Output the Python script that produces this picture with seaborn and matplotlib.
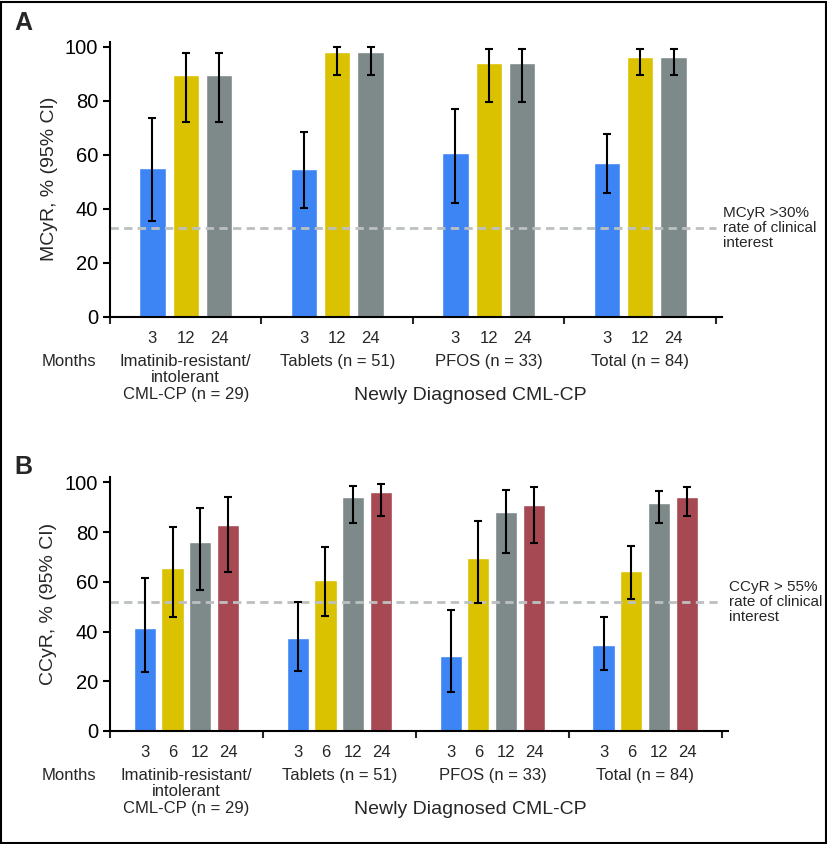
import numpy as np
import pandas as pd
import matplotlib.pyplot as plt
import matplotlib.transforms as mtransforms
from matplotlib.patches import Rectangle
from matplotlib import font_manager
import seaborn as sns

# ---- data ----
groups = ["Imatinib-resistant/\nintolerant\nCML-CP (n = 29)", "Tablets (n = 51)",
          "PFOS (n = 33)", "Total (n = 84)"]

# Panel A: MCyR
mcyr_months = ["3", "12", "24"]
mcyr_rate = [[55.2, 54.9, 60.6, 57.1],
             [89.7, 98.0, 93.9, 96.4],
             [89.7, 98.0, 93.9, 96.4]]
mcyr_low = [[35.7, 40.3, 42.1, 45.9],
            [72.4, 89.5, 79.6, 89.7],
            [72.4, 89.5, 79.6, 89.7]]
mcyr_high = [[73.6, 68.6, 77.1, 67.7],
             [97.6, 99.9, 99.1, 99.2],
             [97.6, 99.9, 99.1, 99.2]]
mcyr_threshold = 33

# Panel B: CCyR
ccyr_months = ["3", "6", "12", "24"]
ccyr_rate = [[41.4, 37.3, 30.3, 34.5],
             [65.5, 60.8, 69.7, 64.3],
             [75.9, 94.1, 87.9, 91.7],
             [82.8, 96.1, 90.9, 94.0]]
ccyr_low = [[23.6, 24.1, 15.7, 24.4],
            [45.8, 46.4, 51.5, 53.0],
            [56.6, 83.6, 71.6, 83.5],
            [64.1, 86.3, 75.6, 86.6]]
ccyr_high = [[61.5, 51.9, 48.7, 45.8],
             [82.2, 74.0, 84.6, 74.5],
             [89.7, 98.6, 96.8, 96.4],
             [94.0, 99.4, 98.0, 98.0]]
ccyr_threshold = 52

colors = ["#3d85f5", "#dbc200", "#7e8a89", "#a64953"]

sns.set_theme(style="ticks")
plt.rcParams['font.family'] = ['Liberation Sans', 'DejaVu Sans']

names = {f.name for f in font_manager.fontManager.ttflist}
if 'Liberation Sans Narrow' in names:
    big_font, big_size = ['Liberation Sans Narrow', 'Liberation Sans'], 16.5
else:
    big_font, big_size = ['Liberation Sans', 'DejaVu Sans'], 14

W, H = 828, 844
fig = plt.figure(figsize=(W / 100, H / 100), dpi=100)
fig.patch.set_facecolor('white')
px = 0.72  # points per pixel


def draw_panel(ax, months, rates, lows, highs, ylabel, threshold, note, width, dash_end):
    df = pd.DataFrame({
        "group": np.tile(groups, len(months)),
        "month": np.repeat(months, len(groups)),
        "rate": np.concatenate(rates),
    })
    sns.barplot(data=df, x="group", y="rate", hue="month", order=groups, hue_order=months,
                palette=colors[:len(months)], width=width, gap=0.21, saturation=1,
                errorbar=None, legend=False, ax=ax)

    centers, labels = [], []
    for cont, m, r, lo, hi in zip(ax.containers, months, rates, lows, highs):
        xs = [p.get_x() + p.get_width() / 2 for p in cont]
        ax.errorbar(xs, r, yerr=[np.subtract(r, lo), np.subtract(hi, r)], fmt='none',
                    ecolor='black', elinewidth=1.5, capsize=2.6, capthick=1.5, zorder=3)
        centers += xs
        labels += [m] * len(xs)

    ax.set_xlim(-0.5, len(groups) - 0.46)
    ax.set_ylim(0, 102)
    ax.set_yticks([0, 20, 40, 60, 80, 100])
    ax.tick_params(axis='y', labelsize=14.5, length=5, width=1.5, colors='black')
    ax.set_xticks(np.arange(len(groups) + 1) - 0.5)
    ax.set_xticklabels([])
    ax.set_xticks(centers, minor=True)
    ax.set_xticklabels(labels, minor=True)
    ax.tick_params(axis='x', which='major', length=5, width=1.5, direction='out')
    ax.tick_params(axis='x', which='minor', length=0, pad=10, labelsize=12)
    ax.set_xlabel("")
    ax.set_ylabel(ylabel, fontsize=14)
    ax.yaxis.set_label_coords(-0.085, 0.5)
    for s in ['top', 'right']:
        ax.spines[s].set_visible(False)
    for s in ['left', 'bottom']:
        ax.spines[s].set_linewidth(1.5)
        ax.spines[s].set_color('black')

    ax.axhline(threshold, xmin=0, xmax=dash_end, color='#bcc0c0', lw=2,
               dashes=(3.0, 1.9), zorder=2.5)
    ax.annotate(note, xy=(1, threshold), xycoords=ax.get_yaxis_transform(),
                xytext=(1, 0), textcoords='offset points', ha='left', va='center',
                fontsize=11, linespacing=1.1, annotation_clip=False)

    xt = ax.get_xaxis_transform()
    for i, g in enumerate(groups):
        ax.annotate(g, xy=(i, 0), xycoords=xt, xytext=(0, -37 * px),
                    textcoords='offset points', ha='center', va='top', fontsize=12,
                    linespacing=1.12, annotation_clip=False)
    bt = mtransforms.blended_transform_factory(fig.transFigure, ax.transAxes)
    ax.annotate("Months", xy=(69 / W, 0), xycoords=bt, xytext=(0, -37 * px),
                textcoords='offset points', ha='center', va='top', fontsize=12,
                annotation_clip=False)
    ax.annotate("Newly Diagnosed CML-CP", xy=(470 / W, 0), xycoords=bt,
                xytext=(0, -79 * px), textcoords='offset points', ha='center',
                va='center', fontsize=big_size, family=big_font, annotation_clip=False)


axA = fig.add_axes([110 / W, 1 - 317 / H, (722 - 110) / W, (317 - 41.6) / H])
draw_panel(axA, mcyr_months, mcyr_rate, mcyr_low, mcyr_high, "MCyR, % (95% CI)",
           mcyr_threshold, "MCyR >30%\nrate of clinical\ninterest", 0.66, 0.99)

axB = fig.add_axes([110 / W, 1 - 731 / H, (728 - 110) / W, (731 - 477.3) / H])
draw_panel(axB, ccyr_months, ccyr_rate, ccyr_low, ccyr_high, "CCyR, % (95% CI)",
           ccyr_threshold, "CCyR > 55%\nrate of clinical\ninterest", 0.73, 0.987)

fig.text(23 / W, 1 - 23 / H, "A", fontsize=18, fontweight='bold', ha='center', va='center')
fig.text(23 / W, 1 - 467 / H, "B", fontsize=18, fontweight='bold', ha='center', va='center')

fig.patches.append(Rectangle((1.5 / W, 1.5 / H), (826 - 1.5) / W, (842.5 - 1.5) / H,
                             transform=fig.transFigure, fill=False, ec='black', lw=1.5))

fig.savefig('out.png', dpi=100)
